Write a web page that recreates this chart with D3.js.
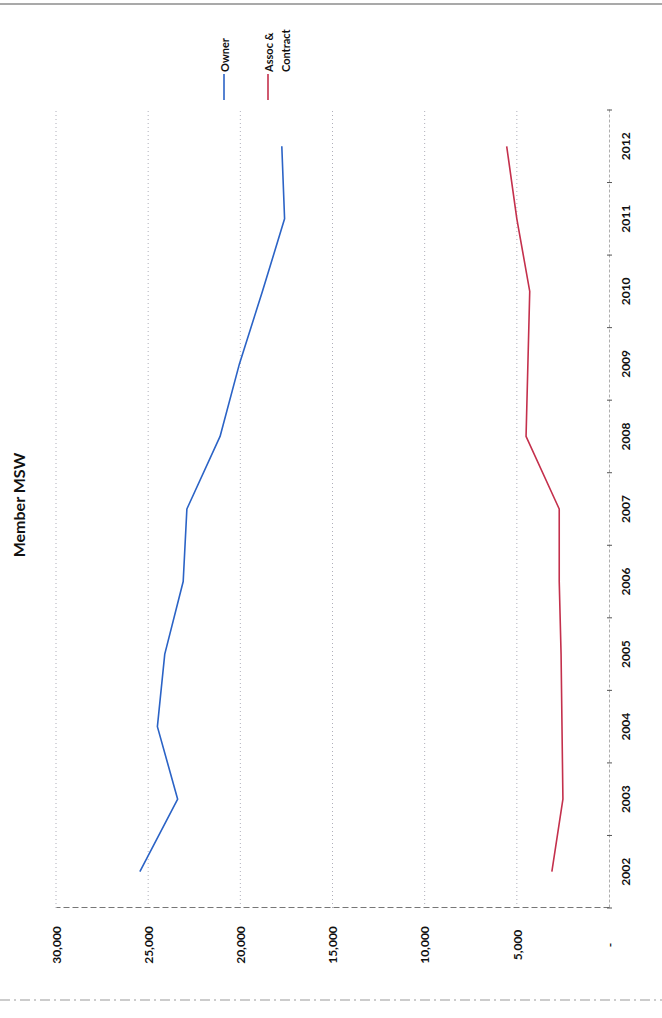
<!DOCTYPE html>
<html>
<head>
<meta charset="utf-8">
<script src="https://cdn.jsdelivr.net/npm/d3@7"></script>
<style>
body{margin:0;background:#fff;}
svg{display:block;}
text{font-family:Lato,"Open Sans",sans-serif;}
</style>
</head>
<body>
<svg id="chart" width="662" height="1018"></svg>
<script>
// data (chart is printed sideways)
var years = ["2002","2003","2004","2005","2006","2007","2008","2009","2010","2011","2012"];
var owner = [25450, 23400, 24500, 24100, 23100, 22900, 21100, 20050, 18800, 17600, 17750];
var assoc = [3100, 2500, 2550, 2600, 2700, 2700, 4500, 4400, 4300, 5000, 5550];
var valueTicks = [0, 5000, 10000, 15000, 20000, 25000, 30000];
var seriesNames = ["Owner", "Assoc & Contract"];
var seriesColors = ["#2b63c6", "#c4304c"];

var svg = d3.select("#chart");

// scan edges of the page
svg.append("line").attr("x1",0).attr("x2",662).attr("y1",4).attr("y2",4)
	.attr("stroke","#555").attr("stroke-width",1.2);
svg.append("line").attr("x1",0).attr("x2",662).attr("y1",1000).attr("y2",1000)
	.attr("stroke","#999").attr("stroke-width",1).attr("stroke-dasharray","10,4,2,4");

// inner chart is drawn upright then turned -90deg
var W = 798, H = 553;
var g = svg.append("g").attr("transform","translate(56,908) rotate(-90)");

var x = d3.scaleBand().domain(years).range([0, W]);
var y = d3.scaleLinear().domain([0, 30000]).range([H, 0]);

// gridlines
g.append("g").selectAll("line")
	.data(valueTicks.filter(function(d){ return d > 0; }))
	.join("line")
	.attr("x1",0).attr("x2",W)
	.attr("y1",function(d){ return y(d); }).attr("y2",function(d){ return y(d); })
	.attr("stroke","#9a9aa8").attr("stroke-width",0.8).attr("stroke-dasharray","1,3");

// value axis
var yAxis = d3.axisLeft(y).tickValues(valueTicks).tickSize(0).tickPadding(37)
	.tickFormat(function(d){ return d === 0 ? "-" : d3.format(",")(d); });
var ya = g.append("g").call(yAxis);
ya.select(".domain").attr("stroke","#777").attr("stroke-width",1).attr("stroke-dasharray","6,3");
ya.selectAll("text").attr("text-anchor","middle").attr("dy","0.35em")
	.attr("font-size",12).attr("font-weight","bold").attr("fill","#111");

// category axis
var xAxis = d3.axisBottom(x).tickSize(0).tickPadding(12);
var xa = g.append("g").attr("transform","translate(0," + H + ")").call(xAxis);
xa.select(".domain").attr("stroke","#999").attr("stroke-width",0.8).attr("stroke-dasharray","3,2");
xa.selectAll("text").attr("font-size",12).attr("font-weight","bold").attr("fill","#111");
xa.selectAll(".sep").data(d3.range(years.length + 1)).join("line")
	.attr("class","sep")
	.attr("x1",function(i){ return i * x.step(); }).attr("x2",function(i){ return i * x.step(); })
	.attr("y1",-2).attr("y2",3)
	.attr("stroke","#555").attr("stroke-width",1);

// series
var line = d3.line()
	.x(function(d,i){ return x(years[i]) + x.bandwidth()/2; })
	.y(function(d){ return y(d); });

[owner, assoc].forEach(function(s, k){
	g.append("path").datum(s)
		.attr("d", line)
		.attr("fill","none")
		.attr("stroke", seriesColors[k])
		.attr("stroke-width",1.6)
		.attr("stroke-linejoin","round");
});

// title
g.append("text")
	.attr("x",403).attr("y",-38)
	.attr("text-anchor","middle").attr("dominant-baseline","central")
	.attr("font-size",16).attr("font-weight","bold").attr("fill","#111")
	.text("Member MSW");

// legend
var lg = g.append("g").attr("transform","translate(808,0)");
var legendRows = [[168], [212, 229]];
seriesNames.forEach(function(name, k){
	var v = legendRows[k][0];
	lg.append("line").attr("x1",0).attr("x2",26).attr("y1",v).attr("y2",v)
		.attr("stroke",seriesColors[k]).attr("stroke-width",1.6);
	var parts = name === "Assoc & Contract" ? ["Assoc &", "Contract"] : [name];
	parts.forEach(function(p, j){
		lg.append("text")
			.attr("x",28)
			.attr("y",legendRows[k][j])
			.attr("dominant-baseline","central")
			.attr("font-size",11).attr("font-weight","bold").attr("fill","#111")
			.text(p);
	});
});
</script>
</body>
</html>
